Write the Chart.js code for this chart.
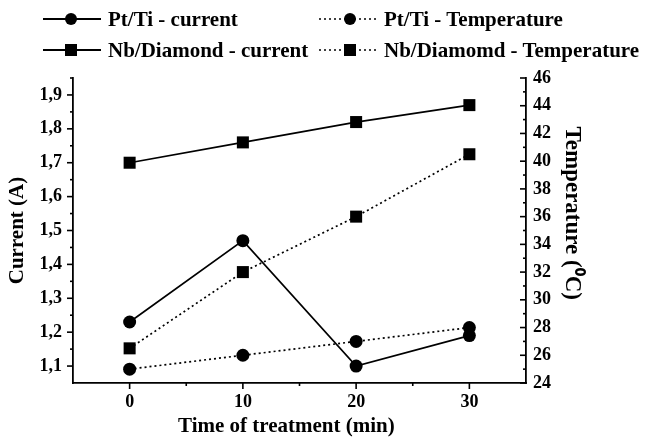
<!DOCTYPE html>
<html>
<head>
<meta charset="utf-8">
<script src="https://cdn.jsdelivr.net/npm/chart.js@4"></script>
<style>
  html, body { margin: 0; padding: 0; background: #fff; }
  #wrap { position: relative; width: 646px; height: 439px; }
  #chart { position: absolute; left: 0; top: 0; }
  .leg { position: absolute; display: flex; align-items: center; height: 24px;
         font: bold 21px "Liberation Serif", "Times New Roman", serif; color: #000; white-space: nowrap; }
  .leg svg { margin-right: 7px; }
</style>
</head>
<body>
<div id="wrap">
  <canvas id="chart" width="646" height="439"></canvas>
  <div id="legend"></div>
</div>
<script>
const TIMES       = [0, 10, 20, 30];
const PT_CURRENT  = [1.23, 1.47, 1.10, 1.19];
const NB_CURRENT  = [1.70, 1.76, 1.82, 1.87];
const PT_TEMP     = [25.0, 26.0, 27.0, 28.0];
const NB_TEMP     = [26.5, 32.0, 36.0, 40.5];

const X_TICKS       = [0, 10, 20, 30];
const X_MINOR       = [5, 15, 25];
const CURRENT_TICKS = [1.1, 1.2, 1.3, 1.4, 1.5, 1.6, 1.7, 1.8, 1.9];
const CURRENT_MINOR = [1.15, 1.25, 1.35, 1.45, 1.55, 1.65, 1.75, 1.85, 1.95];
const TEMP_TICKS    = [24, 26, 28, 30, 32, 34, 36, 38, 40, 42, 44, 46];
const TEMP_MINOR    = [25, 27, 29, 31, 33, 35, 37, 39, 41, 43, 45];

const LABELS = ['Pt/Ti - current', 'Pt/Ti - Temperature', 'Nb/Diamond - current', 'Nb/Diamomd - Temperature'];

const FONT = '"Liberation Serif", "Times New Roman", serif';
const pts = arr => TIMES.map((t, i) => ({ x: t, y: arr[i] }));

// legend (2 x 2, line + marker like the original)
const legendPos = [[43, 7], [319, 7], [43, 38], [319, 38]];
const legendSym = [
  { dash: false, shape: 'circle', mk: 28 },
  { dash: true,  shape: 'circle', mk: 31 },
  { dash: false, shape: 'rect',   mk: 28 },
  { dash: true,  shape: 'rect',   mk: 31 },
];
const legend = document.getElementById('legend');
LABELS.forEach((lab, i) => {
  const s = legendSym[i];
  const [lx, ly] = legendPos[i];
  const dash = s.dash ? ' stroke-dasharray="2 3"' : '';
  const mark = s.shape === 'circle'
    ? `<circle cx="${s.mk}" cy="12" r="6" fill="#000"/>`
    : `<rect x="${s.mk - 6}" y="6" width="12" height="12" fill="#000"/>`;
  const d = document.createElement('div');
  d.className = 'leg';
  d.style.left = lx + 'px';
  d.style.top = ly + 'px';
  d.innerHTML = `<svg width="58" height="24"><line x1="0" y1="12" x2="58" y2="12" stroke="#000" stroke-width="${s.dash ? 1.6 : 2}"${dash}/>${mark}</svg><span>${lab}</span>`;
  legend.appendChild(d);
});

// small tick marks (major + minor), left/bottom outward, right inward
const tickMarks = {
  id: 'tickMarks',
  afterDraw(chart) {
    const ctx = chart.ctx;
    const { x, y, y1 } = chart.scales;
    const a = chart.chartArea;
    ctx.save();
    ctx.strokeStyle = '#000';
    ctx.lineWidth = 1.6;
    const hx = (vals, len) => vals.forEach(v => {
      const px = x.getPixelForValue(v);
      ctx.beginPath(); ctx.moveTo(px, a.bottom); ctx.lineTo(px, a.bottom + len); ctx.stroke();
    });
    const vy = (scale, vals, x0, len) => vals.forEach(v => {
      const py = scale.getPixelForValue(v);
      ctx.beginPath(); ctx.moveTo(x0, py); ctx.lineTo(x0 + len, py); ctx.stroke();
    });
    hx(X_TICKS, 6); hx(X_MINOR, 3);
    vy(y, CURRENT_TICKS, a.left, -6); vy(y, CURRENT_MINOR, a.left, -3);
    vy(y1, TEMP_TICKS, a.right, -6); vy(y1, TEMP_MINOR, a.right, -3);
    ctx.restore();
  }
};

const tickFont = { family: FONT, size: 18, weight: 'bold' };
const titleFont = { family: FONT, size: 21, weight: 'bold' };
const axisBase = {
  grid: { display: true, drawOnChartArea: false, drawTicks: false },
  border: { display: true, color: '#000', width: 1.8 },
};

new Chart(document.getElementById('chart'), {
  type: 'line',
  data: {
    datasets: [
      { label: LABELS[0], data: pts(PT_CURRENT), yAxisID: 'y', pointStyle: 'circle', pointRadius: 6.5, borderDash: [] },
      { label: LABELS[1], data: pts(PT_TEMP),    yAxisID: 'y1', pointStyle: 'circle', pointRadius: 6.5, borderDash: [2, 3] },
      { label: LABELS[2], data: pts(NB_CURRENT), yAxisID: 'y', pointStyle: 'rect', pointRadius: 8.5, borderDash: [] },
      { label: LABELS[3], data: pts(NB_TEMP),    yAxisID: 'y1', pointStyle: 'rect', pointRadius: 8.5, borderDash: [2, 3] },
    ].map(d => Object.assign({
      borderColor: '#000', backgroundColor: '#000', pointBackgroundColor: '#000',
      pointBorderWidth: 0, borderWidth: 1.7, tension: 0,
    }, d)),
  },
  options: {
    responsive: false,
    animation: false,
    devicePixelRatio: 1,
    layout: { padding: { top: 78, left: 0, right: 0, bottom: 0 } },
    plugins: { legend: { display: false }, tooltip: { enabled: false } },
    scales: {
      x: {
        ...axisBase,
        type: 'linear', min: -5, max: 35,
        afterBuildTicks: s => { s.ticks = X_TICKS.map(v => ({ value: v })); },
        afterFit: s => { s.height = 56; },
        ticks: { color: '#000', font: tickFont, padding: 9, maxRotation: 0 },
        // trailing spaces nudge the title left, as in the original
        title: { display: true, text: 'Time of treatment (min)     ', color: '#000', font: titleFont, padding: 0 },
      },
      y: {
        ...axisBase,
        position: 'left', min: 1.05, max: 1.95,
        afterBuildTicks: s => { s.ticks = CURRENT_TICKS.map(v => ({ value: v })); },
        afterFit: s => { s.width = 73; },
        ticks: { color: '#000', font: tickFont, padding: 11, callback: v => v.toFixed(1).replace('.', ',') },
        title: { display: true, text: 'Current (A)', color: '#000', font: titleFont, padding: { top: 5 } },
      },
      y1: {
        ...axisBase,
        position: 'right', min: 24, max: 46,
        afterBuildTicks: s => { s.ticks = TEMP_TICKS.map(v => ({ value: v })); },
        afterFit: s => { s.width = 120; },
        ticks: { color: '#000', font: tickFont, padding: 7 },
        title: { display: true, text: 'Temperature (\u2070C)      ', color: '#000', font: { family: FONT, size: 23, weight: 'bold' }, padding: { top: 60 } },
      },
    },
  },
  plugins: [tickMarks],
});
</script>
</body>
</html>
